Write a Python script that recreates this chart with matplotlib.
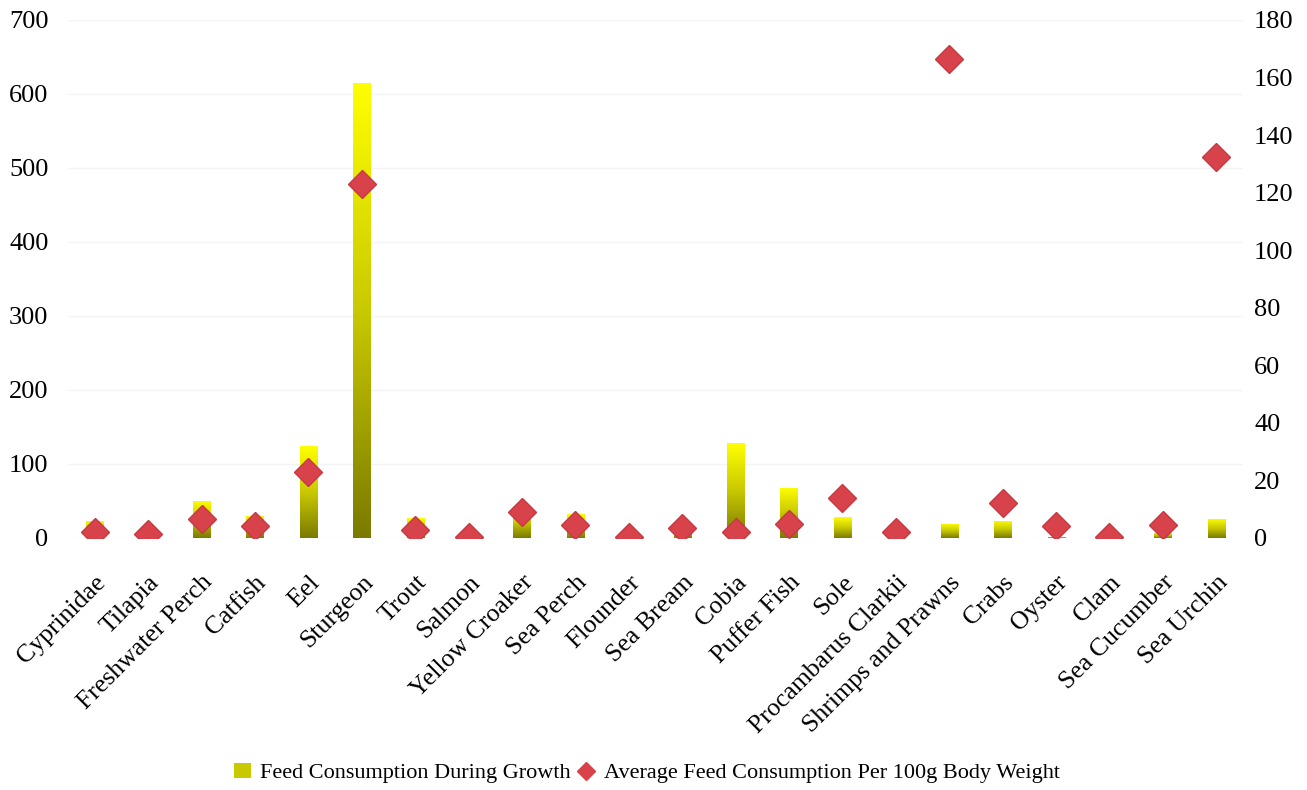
import numpy as np
import matplotlib
matplotlib.use("Agg")
import matplotlib.pyplot as plt
from matplotlib.colors import LinearSegmentedColormap
from matplotlib.patches import Patch
from matplotlib.lines import Line2D

plt.rcParams['font.family'] = ['Liberation Serif', 'DejaVu Serif']

species = ["Cyprinidae", "Tilapia", "Freshwater Perch", "Catfish", "Eel", "Sturgeon",
           "Trout", "Salmon", "Yellow Croaker", "Sea Perch", "Flounder", "Sea Bream",
           "Cobia", "Puffer Fish", "Sole", "Procambarus Clarkii", "Shrimps and Prawns",
           "Crabs", "Oyster", "Clam", "Sea Cucumber", "Sea Urchin"]
feed_growth = [23, 0, 50, 30, 124, 615, 27, 0, 43, 32, 0, 14,
               128, 68, 28, 0, 19, 23, 2, 0, 7, 26]
feed_per_100g = [2.0, 1.4, 6.6, 4.2, 23, 123, 2.8, 0.5, 9.2, 4.5, 0.5, 3.5,
                 2.2, 5.0, 14, 2.0, 166.5, 12, 4.0, 0.3, 4.6, 132.5]

fig = plt.figure(figsize=(13.07, 7.90), dpi=100)
ax = fig.add_axes([68/1307, 1 - 538/790, (1243 - 68)/1307, (538 - 20)/790])
ax2 = ax.twinx()

x = np.arange(len(species))
bars = ax.bar(x, feed_growth, width=0.32, color='none', zorder=2)

# vertical gradient inside each bar: olive at the base, bright yellow on top
cmap = LinearSegmentedColormap.from_list('olive_yellow', ['#7a7a00', '#c9c900', '#ffff00'])
grad = np.linspace(0, 1, 256).reshape(-1, 1)
for b in bars:
    h = b.get_height()
    if h <= 0:
        continue
    x0 = b.get_x()
    im = ax.imshow(grad, cmap=cmap, origin='lower', aspect='auto',
                   extent=[x0, x0 + b.get_width(), 0, h], zorder=2)
    im.set_clip_path(b)

ax.set_xlim(-0.5, len(species) - 0.5)
ax.set_ylim(0, 700)
ax.set_yticks(np.arange(0, 701, 100))
ax2.set_ylim(0, 180)
ax2.set_yticks(np.arange(0, 181, 20))

ax2.plot(x, feed_per_100g, linestyle='none', marker='D', markersize=14,
         color='#d8434b', markeredgecolor='#c43a42', zorder=3)

ax.set_xticks(x)
ax.set_xticklabels(species, rotation=45, ha='right', rotation_mode='anchor', fontsize=18.5)
ax.tick_params(axis='y', labelsize=19, length=0, pad=14)
ax2.tick_params(axis='y', labelsize=19, length=0, pad=8)
ax.tick_params(axis='x', length=0, pad=24)

for a in (ax, ax2):
    for s in a.spines.values():
        s.set_visible(False)
ax.grid(axis='y', color='#f4f4f4', linewidth=1)
ax.set_axisbelow(True)

handles = [Patch(facecolor='#c9c900', edgecolor='none', label='Feed Consumption During Growth'),
           Line2D([], [], linestyle='none', marker='D', markersize=9, color='#d8434b',
                  label='Average Feed Consumption Per 100g Body Weight')]
fig.legend(handles=handles, loc='center', bbox_to_anchor=(0.495, 1 - 773/790), ncol=2,
           frameon=False, fontsize=16, handlelength=0.8, handletextpad=0.4, columnspacing=0.3)

fig.savefig('out.png', dpi=100)
